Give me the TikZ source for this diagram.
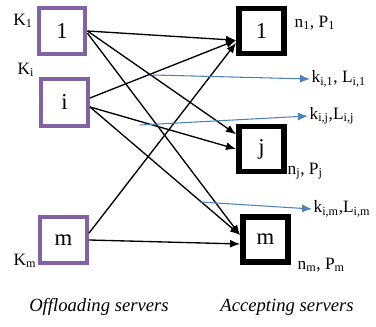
\documentclass[tikz,border=0pt]{standalone}
\usepackage{fontspec}
\setmainfont{Liberation Serif}
\usetikzlibrary{arrows.meta}

\definecolor{offpurple}{RGB}{128,100,162}
\definecolor{flowblue}{RGB}{79,129,189}

\begin{document}
\begin{tikzpicture}[x = 0.75pt, y = -0.75pt,
		offbox/.style = {draw = offpurple, line width = 3.2pt, minimum size = 35pt, inner sep = 0pt, font = \fontsize{17}{17}\selectfont},
		accbox/.style = {draw, line width = 4.2pt, minimum size = 34pt, inner sep = 0pt, font = \fontsize{17}{17}\selectfont},
		link/.style = {-{Latex[length = 7.5pt, width = 6pt]}, line width = 1pt},
		flow/.style = {-{Latex[length = 7.5pt, width = 6pt]}, draw = flowblue, line width = 0.8pt},
		lbl/.style = {font = \fontsize{13}{13}\selectfont, inner sep = 1pt},
		caption/.style = {font = \fontsize{14}{14}\selectfont\itshape}]
		
		\useasboundingbox (0, 0) rectangle (376, 327);
		
		\node[offbox] (l1) at (62, 31) {1};
		\node[offbox] (li) at (64.5, 102.5) {i};
		\node[offbox] (lm) at (63.5, 240) {m};
		
		\node[accbox] (r1) at (261.5, 31) {1};
		\node[accbox] (rj) at (261.5, 149) {j};
		\node[accbox] (rm) at (265.5, 239.5) {m};
		
		\node[lbl] (k1) at (23, 21) {K\textsubscript{1}};
		\node[lbl] (ki) at (26, 70) {K\textsubscript{i}};
		\node[lbl] (km) at (25, 261) {K\textsubscript{m}};
		
		\node[lbl, right] (p1) at (293, 23) {n\textsubscript{1}, P\textsubscript{1}};
		\node[lbl, right] (pj) at (286, 171) {n\textsubscript{j}, P\textsubscript{j}};
		\node[lbl, right] (pm) at (296, 265) {n\textsubscript{m}, P\textsubscript{m}};
		
		\node[lbl, right] (f1) at (310, 79) {k\textsubscript{i,1}, L\textsubscript{i,1}};
		\node[lbl, right] (fj) at (308, 116) {k\textsubscript{i,j},L\textsubscript{i,j}};
		\node[lbl, right] (fm) at (312, 209) {k\textsubscript{i,m},L\textsubscript{i,m}};
		
		\node[caption] (off) at (99, 307) {Offloading servers};
		\node[caption] (acc) at (287, 307) {Accepting servers};
		
		\draw[link] (l1.east) -- (r1.200);
		\draw[link] (l1.east) -- (rj.150);
		\draw[link] (l1.355) -- (rm.170);
		
		\draw[link] (li.10) -- (r1.200);
		\draw[link] (li.350) -- (rj.180);
		\draw[link] (li.350) -- (rm.170);
		
		\draw[link] (lm.15) -- (r1.205);
		\draw[link] (lm.east) -- (rm.190);
		
		\coordinate (s1) at (153, 75);
		\coordinate (sj) at (140, 125);
		\coordinate (sm) at (200, 202);
		
		\draw[flow] (s1) -- (f1.west);
		\draw[flow] (sj) -- (fj.west);
		\draw[flow] (sm) -- (fm.west);
		
	\end{tikzpicture}
\end{document}
